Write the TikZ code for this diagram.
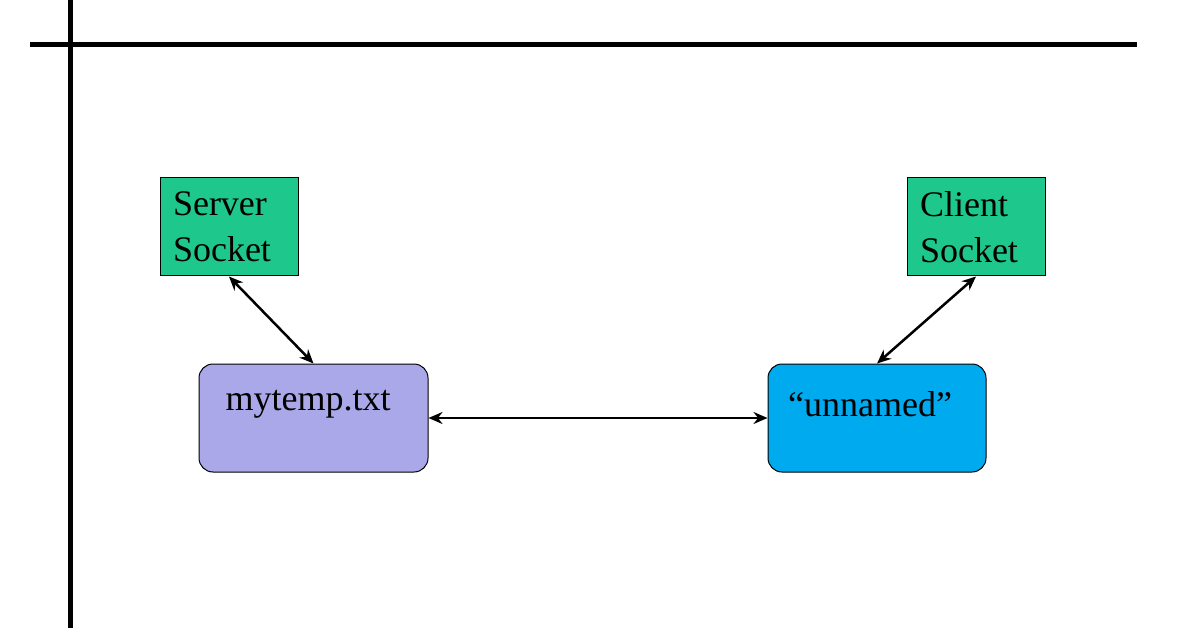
\documentclass[tikz,border=0pt]{standalone}
\usepackage{fontspec}
\setmainfont{Liberation Serif}
\usetikzlibrary{arrows.meta}
\definecolor{sockgreen}{RGB}{30,200,140}
\definecolor{filelav}{RGB}{170,168,232}
\definecolor{pipeblue}{RGB}{0,170,238}
\tikzset{
  sock/.style={draw, line width=1pt, fill=sockgreen, minimum width=138pt, minimum height=98pt, text width=112pt, align=left, inner sep=0pt, font=\fontsize{36}{46}\selectfont},
  file/.style={draw, line width=1pt, rounded corners=14pt, minimum width=229pt, minimum height=108pt, font=\fontsize{36}{40}\selectfont},
  link/.style={{Stealth[length=14pt,width=12pt]}-{Stealth[length=14pt,width=12pt]}, line width=2.5pt}
}
\begin{document}
\begin{tikzpicture}[x=1pt, y=-1pt]
    \useasboundingbox (0,0) rectangle (1196,628);
    \draw[line width=5pt] (30,45) -- (1137,45);
    \draw[line width=5pt] (70,0) -- (70,628);

    \node[sock] (srv) at (229,227) {Server\\Socket};
    \node[sock] (cli) at (976,227) {Client\\Socket};
    \node[file, fill=filelav] (tmp) at (313.5,418) {};
    \node[file, fill=pipeblue, minimum width=218pt] (anon) at (877,418) {};
    \node[font=\fontsize{36}{40}\selectfont] (tmplab) at (308,404) {mytemp.txt};
    \node[font=\fontsize{36}{40}\selectfont] (anonlab) at (870,404) {``unnamed''};

    \draw[link] (srv.south) -- (tmp.north);
    \draw[link] (cli.south) -- (anon.north);
    \draw[link] (tmp.east) -- (anon.west);
\end{tikzpicture}
\end{document}
